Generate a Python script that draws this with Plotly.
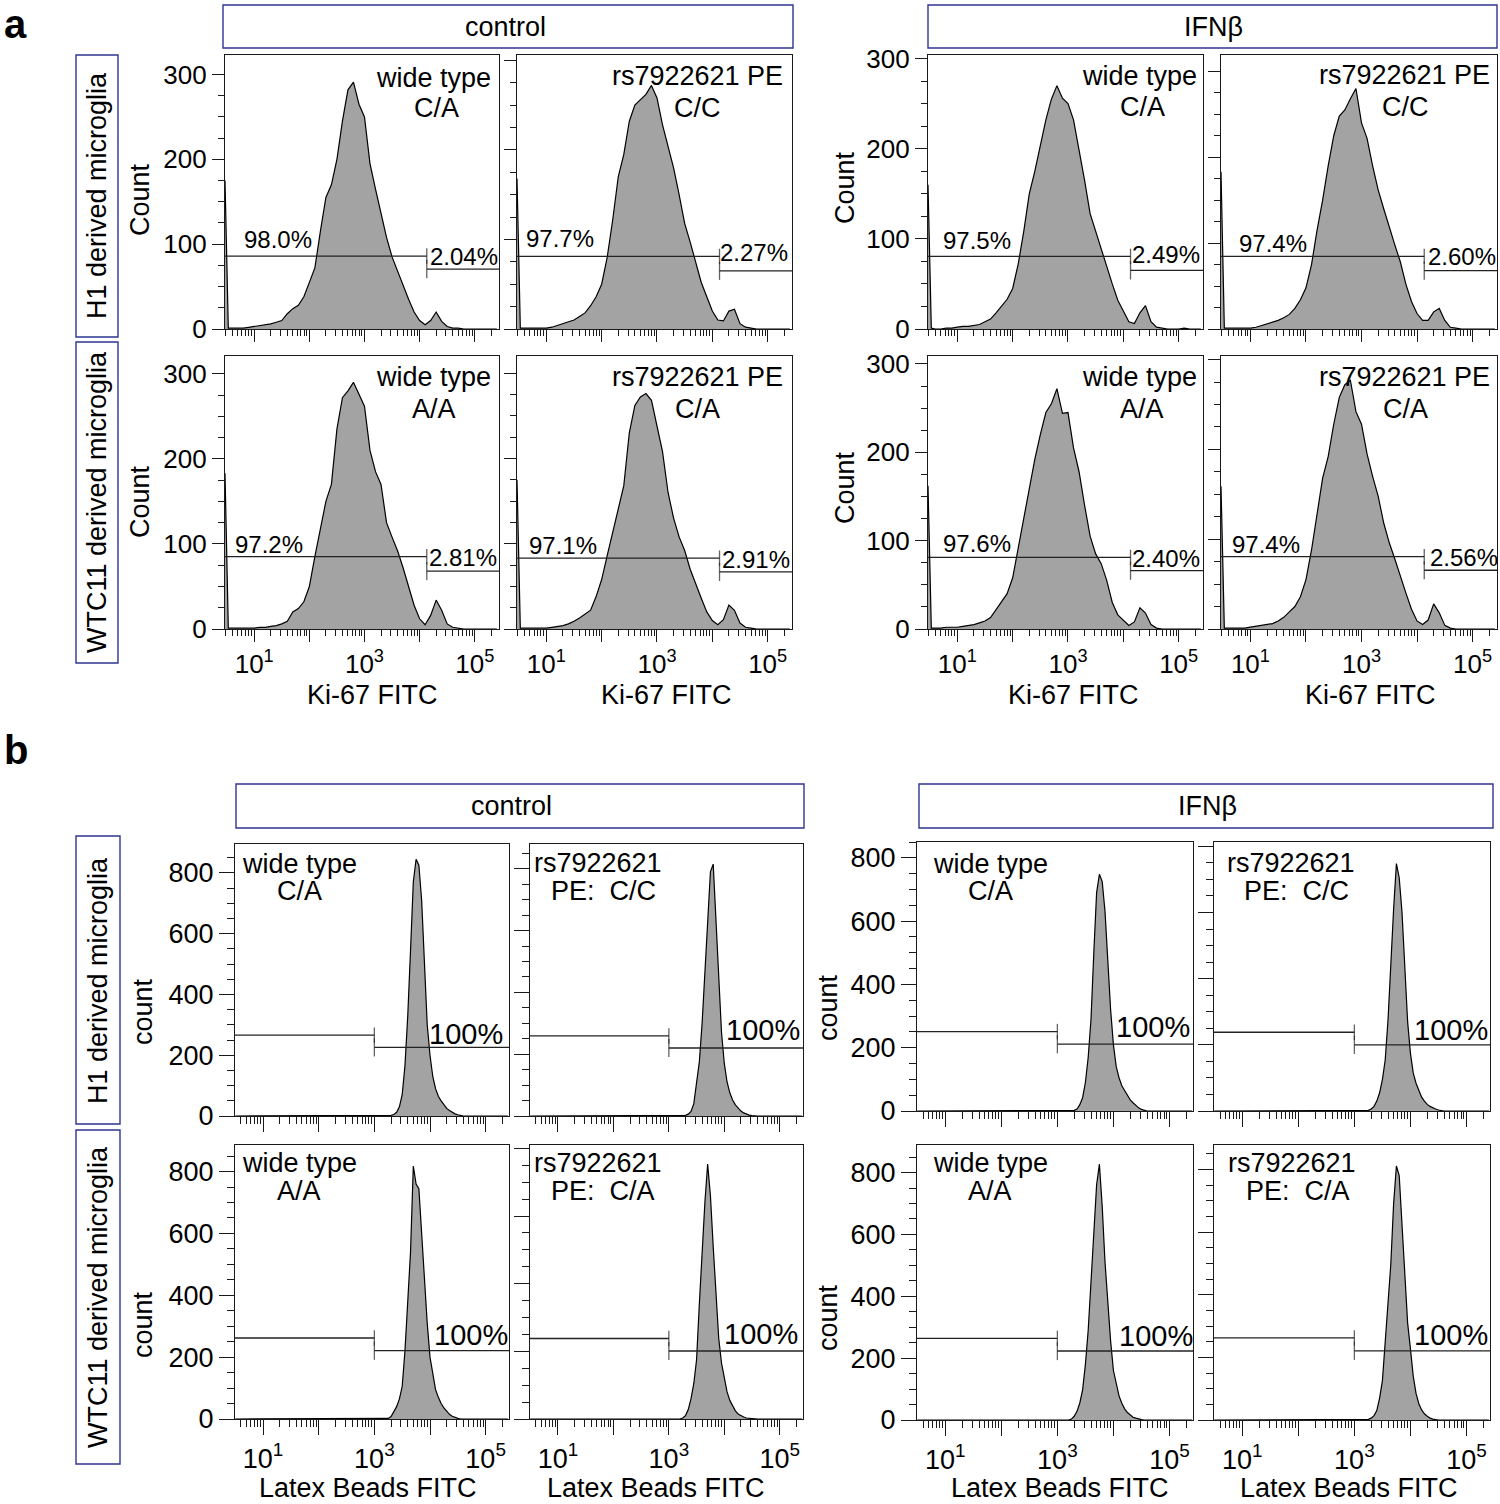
import plotly.graph_objects as go

W, H = 1500, 1504
FONT = "Liberation Sans, Arial, Helvetica, sans-serif"
FRAME = "#1a1a1a"
BOX = "#2f3590"
FILL = "#a3a3a3"

# ---------------- data ----------------
# log10 fluorescence grid (Ki-67 FITC)
ki67_log = [0.47, 0.53, 0.6, 0.7, 0.8, 0.9, 1.0, 1.1, 1.2, 1.3, 1.4, 1.5, 1.6, 1.7, 1.8, 1.9,
            2.0, 2.1, 2.2, 2.3, 2.4, 2.5, 2.6, 2.7, 2.8, 2.9, 3.0, 3.1, 3.2, 3.3, 3.4, 3.5,
            3.6, 3.7, 3.8, 3.9, 4.0, 4.1, 4.2, 4.3, 4.4, 4.5, 4.6, 4.7, 4.8, 4.9, 5.0, 5.1,
            5.2, 5.3, 5.4]
ki67_ctrl_h1_wt = [175, 1, 1, 1, 1, 2, 3, 4, 5, 6, 8, 10, 18, 24, 28, 38, 55, 72, 115, 155, 170, 200, 245, 282, 291,
                   265, 250, 195, 165, 135, 108, 85, 68, 52, 35, 20, 10, 5, 10, 20, 9, 3, 1, 1, 0, 0, 0, 0, 0, 0, 0]
ki67_ctrl_h1_pe = [168, 1, 1, 1, 1, 1, 1, 2, 4, 6, 8, 10, 14, 18, 26, 36, 50, 80, 122, 170, 195, 232, 250, 256, 262,
                   272, 258, 228, 205, 180, 150, 118, 97, 75, 52, 36, 20, 10, 9, 20, 22, 6, 2, 1, 0, 0, 0, 0, 0, 0, 0]
ki67_ifn_h1_wt = [160, 1, 0, 0, 1, 1, 2, 3, 3, 4, 5, 8, 11, 18, 25, 33, 45, 72, 108, 150, 175, 205, 232, 255, 270,
                  256, 250, 232, 200, 165, 128, 108, 90, 70, 50, 32, 20, 8, 6, 18, 26, 8, 2, 1, 0, 0, 0, 1, 0, 0, 0]
ki67_ifn_h1_pe = [183, 1, 1, 1, 1, 1, 1, 2, 4, 6, 8, 10, 13, 17, 24, 34, 48, 75, 115, 150, 190, 225, 248, 255, 268,
                  280, 240, 222, 190, 162, 140, 118, 98, 78, 52, 32, 18, 10, 10, 20, 24, 10, 2, 1, 0, 0, 0, 0, 0, 0, 0]
ki67_ctrl_wtc_wt = [183, 1, 1, 1, 1, 1, 1, 2, 2, 3, 4, 6, 9, 20, 24, 32, 50, 85, 118, 150, 170, 235, 272, 280, 290,
                    275, 262, 210, 185, 170, 125, 108, 92, 72, 50, 28, 12, 5, 16, 34, 22, 6, 2, 1, 0, 0, 0, 0, 0, 0, 0]
ki67_ctrl_wtc_pe = [175, 1, 1, 1, 1, 1, 1, 2, 3, 4, 6, 9, 13, 17, 22, 38, 58, 86, 114, 142, 168, 230, 262, 272, 276,
                    268, 238, 208, 160, 130, 108, 92, 70, 52, 36, 20, 10, 5, 11, 28, 22, 7, 2, 1, 0, 0, 0, 0, 0, 0, 0]
ki67_ifn_wtc_wt = [162, 1, 1, 1, 2, 2, 2, 3, 4, 5, 7, 9, 13, 22, 30, 40, 58, 92, 125, 162, 192, 220, 245, 255, 272,
                   244, 245, 205, 178, 140, 105, 85, 74, 55, 30, 16, 10, 4, 8, 24, 18, 5, 1, 0, 0, 0, 0, 0, 0, 0, 0]
ki67_ifn_wtc_pe = [159, 1, 1, 1, 1, 1, 2, 3, 4, 5, 6, 9, 13, 19, 25, 36, 55, 88, 128, 168, 192, 228, 258, 272, 277,
                   242, 228, 195, 170, 148, 118, 96, 78, 58, 40, 22, 9, 5, 10, 28, 18, 4, 1, 0, 0, 0, 0, 0, 0, 0, 0]

# log10 fluorescence grid (Latex Beads FITC)
beads_log = [0.5, 3.2, 3.25, 3.3, 3.35, 3.4, 3.45, 3.5, 3.55, 3.6, 3.65, 3.7, 3.75, 3.8, 3.85, 3.9,
             3.95, 4.0, 4.05, 4.1, 4.15, 4.2, 4.25, 4.3, 4.35, 4.4, 4.45, 4.5, 4.55, 4.6, 5.4]
beads_ctrl_h1_wt = [0, 0, 0, 2, 5, 12, 30, 70, 165, 330, 545, 770, 845, 825, 710, 480, 300, 200, 130, 90, 65,
                    50, 38, 25, 18, 12, 7, 4, 2, 0, 0]
beads_ctrl_h1_pe = [0, 0, 0, 2, 6, 15, 40, 100, 175, 300, 470, 650, 790, 815, 640, 430, 270, 170, 110, 75, 52,
                    36, 25, 16, 10, 6, 3, 1, 0, 0, 0]
beads_ifn_h1_wt = [0, 0, 0, 2, 6, 20, 42, 90, 170, 290, 500, 690, 748, 725, 630, 460, 320, 209, 140, 105, 80,
                   65, 48, 35, 26, 17, 10, 5, 2, 0, 0]
beads_ifn_h1_pe = [0, 0, 2, 6, 14, 30, 55, 95, 154, 275, 450, 610, 748, 705, 600, 421, 270, 175, 115, 84, 60,
                   42, 30, 20, 14, 9, 6, 3, 1, 0, 0]
beads_ctrl_wtc_wt = [0, 0, 2, 8, 22, 40, 65, 105, 220, 370, 540, 818, 760, 745, 590, 440, 310, 200, 140, 95, 70,
                     50, 36, 24, 15, 9, 5, 2, 0, 0, 0]
beads_ctrl_wtc_pe = [0, 0, 3, 10, 28, 60, 105, 175, 340, 500, 640, 754, 660, 510, 370, 238, 165, 118, 80, 55, 38,
                     24, 15, 10, 6, 3, 2, 1, 0, 0, 0]
beads_ifn_wtc_wt = [0, 0, 3, 12, 28, 55, 97, 180, 290, 453, 620, 760, 827, 690, 510, 370, 255, 160, 115, 78, 54,
                    36, 24, 15, 9, 6, 3, 1, 0, 0, 0]
beads_ifn_wtc_pe = [0, 0, 2, 6, 14, 30, 70, 125, 240, 365, 497, 690, 811, 780, 630, 443, 310, 228, 140, 85, 52,
                    32, 20, 12, 6, 3, 1, 0, 0, 0, 0]

# gates
ki67_gate_log = [4.13, 4.13, 4.13, 4.13, 4.13, 4.13, 4.13, 4.13]
ki67_gate_left_y = [86, 81, 80.6, 84.5, 85, 83, 81, 80.5]
ki67_gate_right_y = [70.5, 65, 65, 68, 68, 67, 66, 65.4]
beads_gate_log = [3.0, 3.0, 3.0, 3.0, 3.0, 3.0, 3.0, 3.0]
beads_gate_left_y = [266, 259, 251, 238, 262, 238, 264, 262]
beads_gate_right_y = [226, 220, 211, 200, 221, 201, 223, 221]

# text
ki67_left_pct = ["98.0%", "97.7%", "97.5%", "97.4%", "97.2%", "97.1%", "97.6%", "97.4%"]
ki67_right_pct = ["2.04%", "2.27%", "2.49%", "2.60%", "2.81%", "2.91%", "2.40%", "2.56%"]
ki67_line1 = ["wide type", "rs7922621 PE", "wide type", "rs7922621 PE",
              "wide type", "rs7922621 PE", "wide type", "rs7922621 PE"]
ki67_line2 = ["C/A", "C/C", "C/A", "C/C", "A/A", "C/A", "A/A", "C/A"]
beads_pct = ["100%"] * 8
beads_line1 = ["wide type", "rs7922621", "wide type", "rs7922621",
               "wide type", "rs7922621", "wide type", "rs7922621"]
beads_line2 = ["C/A", "PE:\u00a0 C/C", "C/A", "PE:\u00a0 C/C", "A/A", "PE:\u00a0 C/A", "A/A", "PE:\u00a0 C/A"]
conditions = ["control", "IFNβ"]
cell_lines = ["H1 derived microglia", "WTC11 derived microglia"]

ki67_series = [ki67_ctrl_h1_wt, ki67_ctrl_h1_pe, ki67_ifn_h1_wt, ki67_ifn_h1_pe,
               ki67_ctrl_wtc_wt, ki67_ctrl_wtc_pe, ki67_ifn_wtc_wt, ki67_ifn_wtc_pe]
beads_series = [beads_ctrl_h1_wt, beads_ctrl_h1_pe, beads_ifn_h1_wt, beads_ifn_h1_pe,
                beads_ctrl_wtc_wt, beads_ctrl_wtc_pe, beads_ifn_wtc_wt, beads_ifn_wtc_pe]

# ---------------- layout geometry (pixels) ----------------
a_cols = [(225, 499), (517, 792), (928, 1203), (1221, 1497)]
a_rows = [(55, 329), (356, 629)]
b_cols = [(235, 509), (530, 803), (917, 1193), (1214, 1490)]
b_rows_ctrl = [(844, 1116), (1145, 1419)]
b_rows_ifn = [(842, 1111), (1145, 1420)]
a_ymax = [323, 306, 304, 319, 321, 320, 309, 304]
b_ymax = [895, 880, 850, 813, 886, 810, 889, 878]
A_XR = [0.47, 5.44]
B_XR = [0.495, 5.42]

# label positions
a_l1_pos = [(493, 78), (785, 76), (1199, 76), (1492, 75), (493, 377), (785, 377), (1199, 377), (1492, 377)]
a_l2_pos = [(436, 108), (697, 108), (1142, 107), (1405, 107), (434, 409), (697, 409), (1142, 409), (1405, 409)]
a_lp_pos = [(242, 240), (524, 239), (941, 241), (1237, 243), (233, 544), (527, 546), (941, 543), (1230, 544)]
a_rp_pos = [(428, 256), (718, 252), (1130, 254), (1426, 256), (427, 557), (720, 559), (1130, 558), (1428, 557)]
b_l1_pos = [(299, 864), (598, 863), (990, 864), (1291, 863), (299, 1163), (598, 1163), (990, 1163), (1292, 1163)]
b_l2_pos = [(299, 891), (603, 891), (990, 891), (1296, 891), (299, 1191), (603, 1191), (990, 1191), (1298, 1191)]
b_p_pos = [(505, 1034), (802, 1030), (1192, 1027), (1490, 1030), (510, 1335), (800, 1334), (1195, 1336), (1490, 1335)]


def px_dom_x(p0, p1):
    return [p0 / W, p1 / W]


def px_dom_y(p0, p1):
    return [1 - p1 / H, 1 - p0 / H]


fig = go.Figure()
layout = {}
annotations = []
shapes = []

x_major = [10, 100, 1000, 10000, 100000]
x_text = ["10<sup>1</sup>", "", "10<sup>3</sup>", "", "10<sup>5</sup>"]
x_minor = [k * 10 ** d for d in range(0, 6) for k in range(2, 10)]


def ann(text, px, py, size, xanchor="center", angle=0, bold=False):
    annotations.append(dict(
        text=f"<b>{text}</b>" if bold else text, x=px / W, y=1 - py / H, xref="paper", yref="paper",
        xanchor=xanchor, yanchor="middle", showarrow=False, textangle=angle,
        font=dict(family=FONT, size=size, color="black")))


def box(x0, y0, x1, y1):
    shapes.append(dict(type="rect", xref="paper", yref="paper", x0=x0 / W, x1=x1 / W,
                       y0=1 - y1 / H, y1=1 - y0 / H, line=dict(color=BOX, width=1.4)))


panel = 0
for block in ("a", "b"):
    for k in range(8):
        panel += 1
        r, c = divmod(k, 4)
        nm = "" if panel == 1 else str(panel)
        if block == "a":
            cx = a_cols[c]
            cy = a_rows[r]
            xr = A_XR
            ymax = a_ymax[k]
            ydt, ymn = 100, 25
            xs = [10 ** v for v in ki67_log]
            ys = ki67_series[k]
            g = ki67_gate_log[k]
            gl, gr = ki67_gate_left_y[k], ki67_gate_right_y[k]
            mlen, mnlen = 12, 6
            tfs = 26
        else:
            cx = b_cols[c]
            cy = (b_rows_ctrl if c < 2 else b_rows_ifn)[r]
            xr = B_XR
            ymax = b_ymax[k]
            ydt, ymn = 200, 50
            xs = [10 ** v for v in beads_log]
            ys = beads_series[k]
            g = beads_gate_log[k]
            gl, gr = beads_gate_left_y[k], beads_gate_right_y[k]
            mlen, mnlen = 15, 7
            tfs = 27
        show_y = c in (0, 2)
        show_x = r == 1
        layout["xaxis" + nm] = dict(
            domain=px_dom_x(*cx), anchor="y" + nm, type="log", range=xr, automargin=False,
            showline=True, mirror=True, linecolor=FRAME, linewidth=1.3,
            ticks="outside", tickvals=x_major, ticktext=x_text, ticklen=mlen, tickwidth=1.2,
            tickcolor=FRAME, showgrid=False, zeroline=False, showticklabels=show_x,
            tickfont=dict(family=FONT, size=tfs, color="black"),
            minor=dict(tickvals=x_minor, ticks="outside", ticklen=mnlen, tickwidth=1.0,
                       tickcolor=FRAME, showgrid=False),
        )
        layout["yaxis" + nm] = dict(
            domain=px_dom_y(*cy), anchor="x" + nm, range=[0, ymax], automargin=False,
            showline=True, mirror=True, linecolor=FRAME, linewidth=1.3,
            ticks="outside", tick0=0, dtick=ydt, ticklen=mlen, tickwidth=1.2, tickcolor=FRAME,
            showgrid=False, zeroline=False, showticklabels=show_y,
            tickfont=dict(family=FONT, size=tfs, color="black"),
            minor=dict(tick0=0, dtick=ymn, ticks="outside", ticklen=mnlen, tickwidth=1.0,
                       tickcolor=FRAME, showgrid=False),
        )
        fig.add_trace(go.Scatter(
            x=xs, y=ys, mode="lines", fill="tozeroy", fillcolor=FILL,
            line=dict(color="black", width=1.2), xaxis="x" + nm, yaxis="y" + nm,
            showlegend=False, hoverinfo="skip"))
        # gates
        xlo, xhi, xg = 10 ** xr[0], 10 ** xr[1], 10 ** g
        fig.add_trace(go.Scatter(
            x=[xlo, xg], y=[gl, gl], mode="lines+markers",
            line=dict(color="#222", width=1.3),
            marker=dict(symbol="line-ns", size=[0, 11], line=dict(color="#222", width=1.3)),
            xaxis="x" + nm, yaxis="y" + nm, showlegend=False, hoverinfo="skip", cliponaxis=False))
        fig.add_trace(go.Scatter(
            x=[xg, xhi], y=[gr, gr], mode="lines+markers",
            line=dict(color="#222", width=1.3),
            marker=dict(symbol="line-ns", size=[13, 0], line=dict(color="#222", width=1.3)),
            xaxis="x" + nm, yaxis="y" + nm, showlegend=False, hoverinfo="skip", cliponaxis=False))
        # labels
        if block == "a":
            ann(ki67_line1[k], *a_l1_pos[k], 27, xanchor="right")
            ann(ki67_line2[k], *a_l2_pos[k], 27)
            ann(ki67_left_pct[k], *a_lp_pos[k], 24, xanchor="left")
            ann(ki67_right_pct[k], *a_rp_pos[k], 24, xanchor="left")
        else:
            ann(beads_line1[k], *b_l1_pos[k], 27)
            ann(beads_line2[k], *b_l2_pos[k], 27)
            ann(beads_pct[k], *b_p_pos[k], 29, xanchor="right")

# axis titles
for px, py in [(140, 200), (140, 502), (845, 188), (845, 488)]:
    ann("Count", px, py, 27, angle=-90)
for px, py in [(143, 1012), (143, 1325), (828, 1008), (828, 1318)]:
    ann("count", px, py, 27, angle=-90)
for px in [372, 666, 1073, 1370]:
    ann("Ki-67 FITC", px, 695, 27)
for px in [368, 656, 1060, 1349]:
    ann("Latex Beads FITC", px, 1488, 27)

# headers
box(223, 5, 793, 48)
ann(conditions[0], 505, 27, 27)
box(928, 5, 1497, 48)
ann(conditions[1], 1213, 27, 27)
box(236, 784, 804, 828)
ann(conditions[0], 511, 806, 27)
box(919, 784, 1493, 828)
ann(conditions[1], 1207, 806, 27)

# row labels
box(76, 55, 118, 337)
ann(cell_lines[0], 97, 196, 27, angle=-90)
box(76, 342, 118, 663)
ann(cell_lines[1], 97, 502, 27, angle=-90)
box(76, 836, 120, 1124)
ann(cell_lines[0], 98, 980, 27, angle=-90)
box(76, 1130, 120, 1464)
ann(cell_lines[1], 98, 1297, 27, angle=-90)

# panel letters
ann("a", 2, 24, 40, xanchor="left", bold=True)
ann("b", 2, 750, 40, xanchor="left", bold=True)

fig.update_layout(
    width=W, height=H, margin=dict(l=0, r=0, t=0, b=0, pad=0, autoexpand=False),
    paper_bgcolor="white", plot_bgcolor="white",
    annotations=annotations, shapes=shapes, showlegend=False,
    font=dict(family=FONT, color="black"),
    **layout)

fig.write_html(
    "out.html", config={"displayModeBar": False},
    post_script=(
        "document.body.style.margin='0';document.body.style.padding='0';"
        "document.documentElement.style.overflow='hidden';document.body.style.overflow='hidden';"))
